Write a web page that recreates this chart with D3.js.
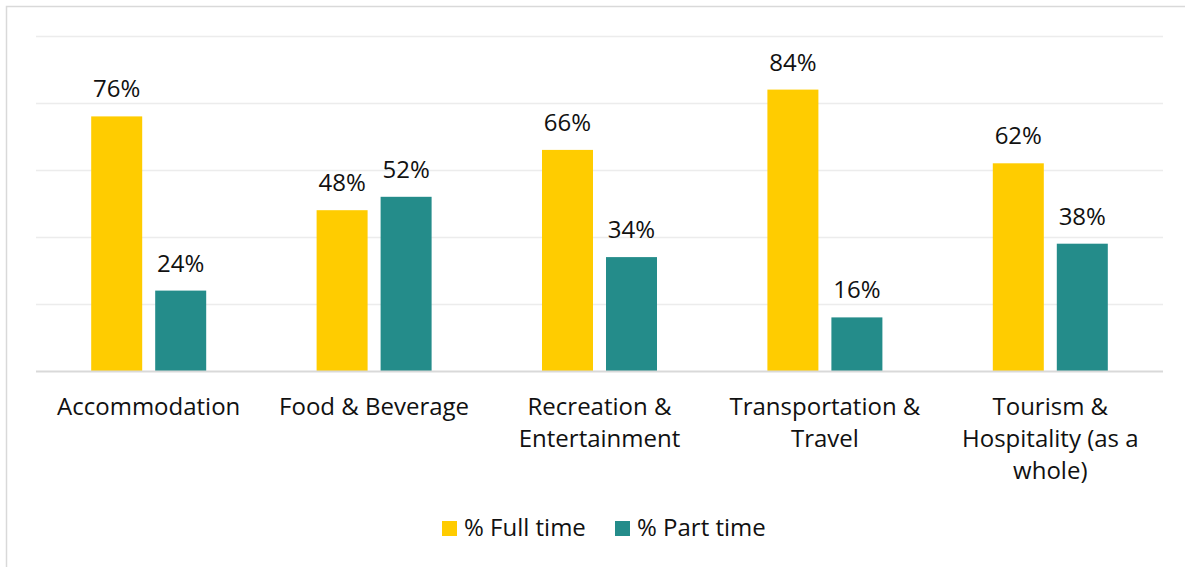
<!DOCTYPE html>
<html>
<head>
<meta charset="utf-8">
<script src="https://cdn.jsdelivr.net/npm/d3@7"></script>
<style>
    body { margin: 0; background: #fff; }
    svg { display: block; font-family: 'Open Sans', 'Noto Sans', sans-serif; }
</style>
</head>
<body>
<svg id="chart" width="1185" height="567"></svg>
<script>
var categories = ['Accommodation', 'Food & Beverage', 'Recreation & Entertainment', 'Transportation & Travel', 'Tourism & Hospitality (as a whole)'];
var fullTime = [76, 48, 66, 84, 62];
var partTime = [24, 52, 34, 16, 38];
var seriesNames = ['% Full time', '% Part time'];
var colors = ['#ffcc00', '#248c8a'];
var yTicks = [0, 20, 40, 60, 80, 100];

var svg = d3.select('#chart');

var margin = { left: 36, right: 22, top: 36, bottom: 196 };
var width = 1185, height = 567;
var fontSize = 24;

// outer frame (only top and left visible in the original)
svg.append('rect')
    .attr('x', 6.5)
    .attr('y', 6.5)
    .attr('width', width)
    .attr('height', height)
    .attr('fill', 'none')
    .attr('stroke', '#d9d9d9')
    .attr('stroke-width', 1.5);

var x = d3.scaleBand()
    .domain(categories)
    .range([margin.left, width - margin.right])
    .paddingInner(0)
    .paddingOuter(0);

var y = d3.scaleLinear()
    .domain([0, 100])
    .range([height - margin.bottom, margin.top]);

var barWidth = 51;
var gap = 13;

// gridlines
svg.selectAll('.grid')
    .data(yTicks.slice(1))
    .enter()
    .append('line')
        .attr('class', 'grid')
        .attr('x1', margin.left)
        .attr('x2', width - margin.right)
        .attr('y1', function(d) { return Math.round(y(d)) + 0.5; })
        .attr('y2', function(d) { return Math.round(y(d)) + 0.5; })
        .attr('stroke', '#ececec')
        .attr('stroke-width', 1.5);

var data = [];
for (var i = 0; i < categories.length; i++) {
    data.push({ cat: categories[i], s: 0, v: fullTime[i] });
    data.push({ cat: categories[i], s: 1, v: partTime[i] });
}

function barX(d) {
    var c = x(d.cat) + x.bandwidth() / 2;
    return d.s === 0 ? c - gap / 2 - barWidth : c + gap / 2;
}

svg.selectAll('.bar')
    .data(data)
    .enter()
    .append('rect')
        .attr('class', 'bar')
        .attr('x', barX)
        .attr('width', barWidth)
        .attr('y', function(d) { return y(d.v); })
        .attr('height', function(d) { return y(0) - y(d.v); })
        .attr('fill', function(d) { return colors[d.s]; });

svg.selectAll('.val')
    .data(data)
    .enter()
    .append('text')
        .attr('class', 'val')
        .attr('x', function(d) { return barX(d) + barWidth / 2; })
        .attr('y', function(d) { return y(d.v) - 19; })
        .attr('text-anchor', 'middle')
        .attr('font-size', fontSize)
        .attr('fill', '#111')
        .text(function(d) { return d.v + '%'; });

// baseline
svg.append('line')
    .attr('x1', margin.left)
    .attr('x2', width - margin.right)
    .attr('y1', y(0) + 0.5)
    .attr('y2', y(0) + 0.5)
    .attr('stroke', '#d9d9d9')
    .attr('stroke-width', 2);

// category labels via axis
var xAxis = svg.append('g')
    .attr('transform', 'translate(0,' + y(0) + ')')
    .call(d3.axisBottom(x).tickSize(0).tickPadding(0));

xAxis.select('.domain').remove();

xAxis.selectAll('text')
    .attr('font-size', fontSize)
    .attr('font-family', "'Open Sans', 'Noto Sans', sans-serif")
    .attr('fill', '#111')
    .attr('dy', null)
    .attr('y', 44)
    .call(wrap, 210);

function wrap(texts, w) {
    texts.each(function() {
        var text = d3.select(this);
        var words = text.text().split(/\s+/);
        var line = [];
        var lineNo = 0;
        var ty = text.attr('y');
        var tspan = text.text(null).append('tspan').attr('x', 0).attr('y', ty);
        for (var j = 0; j < words.length; j++) {
            line.push(words[j]);
            tspan.text(line.join(' '));
            if (tspan.node().getComputedTextLength() > w && line.length > 1) {
                line.pop();
                tspan.text(line.join(' '));
                line = [words[j]];
                lineNo++;
                tspan = text.append('tspan')
                    .attr('x', 0)
                    .attr('y', +ty + lineNo * 32)
                    .text(words[j]);
            }
        }
    });
}

// legend
var legend = svg.append('g').attr('transform', 'translate(442,521)');
var legendX = [0, 173];
seriesNames.forEach(function(name, i) {
    var g = legend.append('g').attr('transform', 'translate(' + legendX[i] + ',0)');
    g.append('rect')
        .attr('width', 15)
        .attr('height', 15)
        .attr('fill', colors[i]);
    g.append('text')
        .attr('x', 22)
        .attr('y', 15)
        .attr('font-size', fontSize)
        .attr('fill', '#111')
        .text(name);
});
</script>
</body>
</html>
